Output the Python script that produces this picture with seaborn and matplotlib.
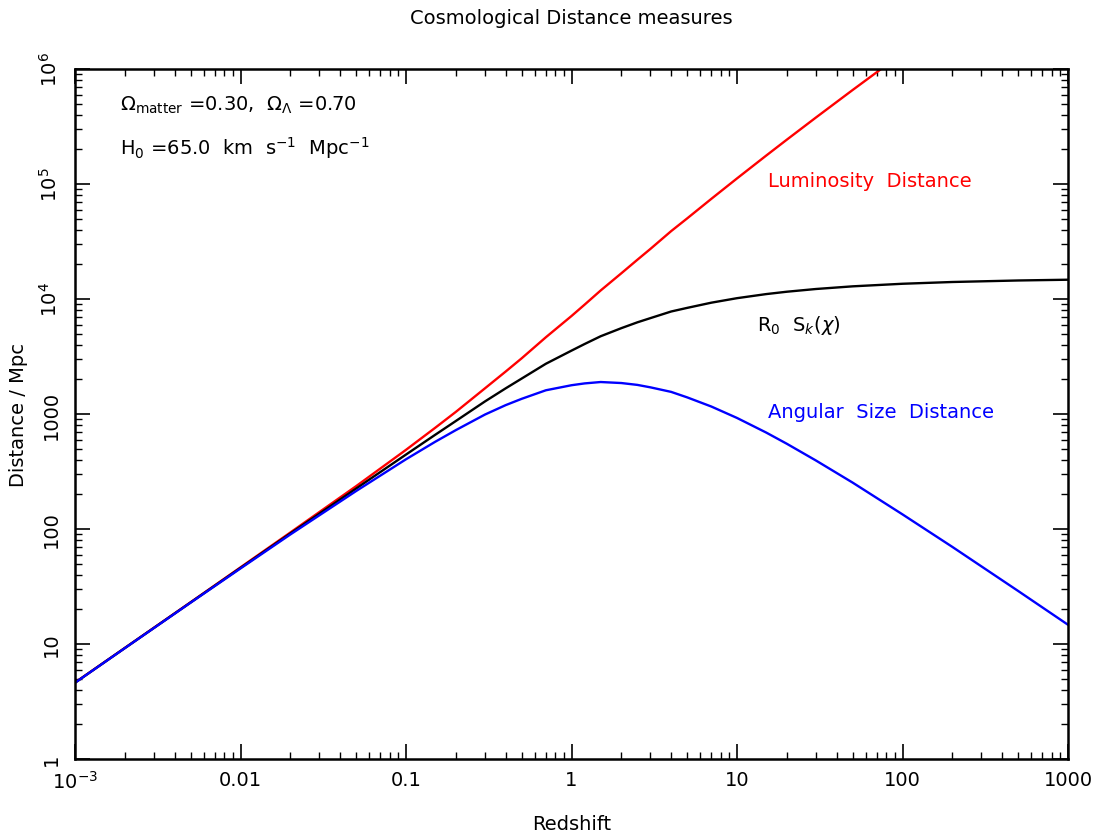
import matplotlib
matplotlib.use("Agg")
import matplotlib.pyplot as plt
import matplotlib.ticker as mticker
import seaborn as sns
import pandas as pd
import numpy as np

# Data
redshift = [0.001, 0.002, 0.005, 0.01, 0.02, 0.05, 0.1, 0.15, 0.2, 0.3, 0.4, 0.5, 0.7,
            1.0, 1.2, 1.5, 2.0, 2.5, 3.0, 4.0, 5.0, 7.0, 10.0, 15.0, 20.0, 30.0,
            50.0, 100.0, 200.0, 500.0, 1000.0]
luminosity_distance = [4.62, 9.24, 23.1, 46.4, 93.2, 236, 488, 758, 1043, 1672, 2339, 3050, 4648,
                       7114, 8932, 11858, 16731, 21938, 27284, 38925, 50226, 74320, 111815,
                       176512, 242907, 378727, 657186, 1370368, 2825000, 7260000, 14730000]
comoving_distance = [4.61, 9.22, 23.0, 45.9, 91.4, 225, 444, 659, 869, 1286, 1671, 2033, 2734,
                     3557, 4060, 4743, 5577, 6268, 6821, 7785, 8371, 9290, 10165,
                     11032, 11567, 12217, 12886, 13568, 14055, 14490, 14711]
angular_distance = [4.60, 9.20, 22.9, 45.4, 89.6, 214, 404, 573, 724, 989, 1194, 1355, 1608,
                    1779, 1845, 1897, 1859, 1791, 1705, 1557, 1395, 1161, 924,
                    690, 551, 394, 253, 134, 69.9, 28.9, 14.7]

x_ticks = [1e-3, 1e-2, 1e-1, 1, 10, 100, 1000]
x_ticklabels = [r"$10^{-3}$", "0.01", "0.1", "1", "10", "100", "1000"]
y_ticks = [1, 10, 100, 1000, 1e4, 1e5, 1e6]
y_ticklabels = ["1", "10", "100", "1000", r"$10^{4}$", r"$10^{5}$", r"$10^{6}$"]

df = pd.DataFrame({
    "z": redshift,
    "DL": luminosity_distance,
    "DC": comoving_distance,
    "DA": angular_distance,
})

sns.set_style("ticks")
plt.rcParams["font.family"] = ["DejaVu Sans"]
plt.rcParams["mathtext.fontset"] = "dejavusans"
plt.rcParams["text.color"] = "black"
plt.rcParams["axes.labelcolor"] = "black"

FS = 14

fig = plt.figure(figsize=(10.99, 8.37), dpi=100)
ax = fig.add_axes([75 / 1099, 1 - 760 / 837, 993 / 1099, 690 / 837])

sns.lineplot(data=df, x="z", y="DL", ax=ax, color="red", linewidth=1.7)
sns.lineplot(data=df, x="z", y="DC", ax=ax, color="black", linewidth=1.7)
sns.lineplot(data=df, x="z", y="DA", ax=ax, color="blue", linewidth=1.7)

ax.set_xscale("log")
ax.set_yscale("log")
ax.set_xlim(1e-3, 1000)
ax.set_ylim(1, 1e6)

ax.set_xticks(x_ticks)
ax.set_xticklabels(x_ticklabels, fontsize=FS)
ax.set_yticks(y_ticks)
ax.set_yticklabels(y_ticklabels, fontsize=FS, rotation=90, va="center")
ax.xaxis.set_minor_locator(mticker.LogLocator(base=10, subs=np.arange(2, 10)))
ax.yaxis.set_minor_locator(mticker.LogLocator(base=10, subs=np.arange(2, 10)))
ax.xaxis.set_minor_formatter(mticker.NullFormatter())
ax.yaxis.set_minor_formatter(mticker.NullFormatter())

ax.tick_params(which="both", direction="in", top=True, right=True, color="black",
               labelcolor="black")
ax.tick_params(which="major", length=11, width=1.2)
ax.tick_params(axis="x", which="major", pad=8)
ax.tick_params(axis="y", which="major", pad=10)
ax.tick_params(which="minor", length=5, width=1.0)

for s in ax.spines.values():
    s.set_visible(True)
    s.set_linewidth(1.8)
    s.set_color("black")

ax.set_xlabel("Redshift", fontsize=FS, labelpad=16, color="black")
ax.set_ylabel("Distance / Mpc", fontsize=FS, labelpad=8, color="black")
fig.text(571 / 1099, 1 - 18 / 837, "Cosmological Distance measures", ha="center",
         va="center", fontsize=FS, color="black")

ax.text(0.045, 0.949, r"$\Omega_{\mathrm{matter}}$ =0.30,  $\Omega_{\Lambda}$ =0.70",
        transform=ax.transAxes, fontsize=FS, va="center", ha="left", color="black")
ax.text(0.045, 0.887, r"H$_0$ =65.0  km  s$^{-1}$  Mpc$^{-1}$",
        transform=ax.transAxes, fontsize=FS, va="center", ha="left", color="black")
ax.text(0.698, 0.838, "Luminosity  Distance", color="red",
        transform=ax.transAxes, fontsize=FS, va="center", ha="left")
ax.text(0.687, 0.630, r"R$_0$  S$_k$($\chi$)", color="black",
        transform=ax.transAxes, fontsize=FS, va="center", ha="left")
ax.text(0.698, 0.504, "Angular  Size  Distance", color="blue",
        transform=ax.transAxes, fontsize=FS, va="center", ha="left")

fig.savefig("out.png", dpi=100)
